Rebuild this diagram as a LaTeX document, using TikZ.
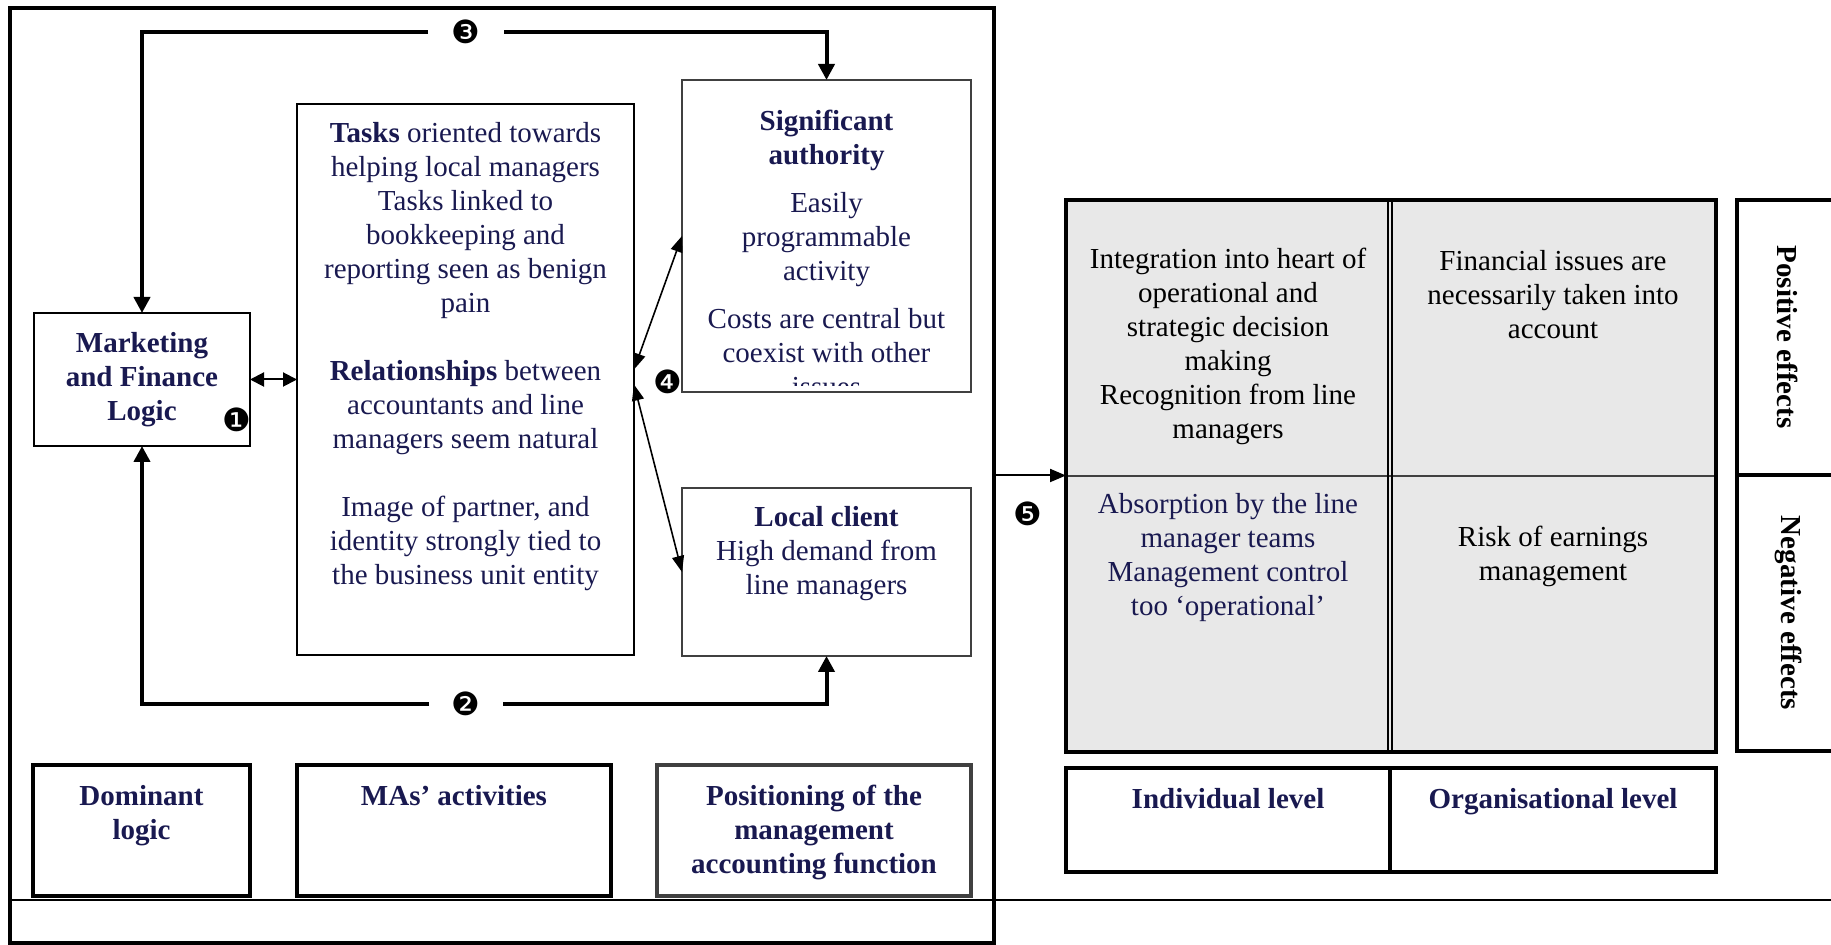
\documentclass[tikz,border=0pt]{standalone}
\usepackage{fontspec}
\setmainfont{Liberation Serif}
\newfontfamily\dingfont{DejaVu Sans}
\usetikzlibrary{arrows.meta,fit,calc}
\definecolor{navy}{RGB}{25,25,80}
\definecolor{bordergray}{RGB}{64,64,64}
\definecolor{cellgray}{RGB}{232,232,232}
\begin{document}
\begin{tikzpicture}[x=0.5pt,y=-0.5pt,
  every node/.style={inner sep=0pt,outer sep=0pt},
  thinbox/.style={draw,line width=1pt,fit={#1}},
  graybox/.style={draw=bordergray,line width=1pt,fit={#1}},
  thickbox/.style={draw,line width=2pt,fit={#1}},
  thickgray/.style={draw=bordergray,line width=2pt,fit={#1}},
  txt/.style={anchor=north,align=center,font=\fontsize{14.5}{17}\selectfont,text=navy},
  btxt/.style={txt,font=\fontsize{14.5}{17}\selectfont\bfseries},
  num/.style={font=\dingfont\fontsize{16}{17}\selectfont},
  loopline/.style={line width=2pt},
  looptip/.style={-{Triangle[width=8pt,length=8pt]}},
  dblarrow/.style={line width=1pt,{Triangle[width=7pt,length=7pt]}-{Triangle[width=7pt,length=7pt]}},
  diagarrow/.style={line width=0.8pt,{Triangle[width=6pt,length=8pt]}-{Triangle[width=6pt,length=8pt]}},
  fivearrow/.style={line width=1pt,-{Triangle[width=6.5pt,length=8pt]}}
]
\useasboundingbox (0,0) rectangle (1831,945);
\clip (0,0) rectangle (1831,945);

% outer frame and separator
\node[thickbox={(10,8)(994,943)}] (outer) {};
\draw[line width=1.2pt] (10,900) -- (1831,900);

% left part boxes
\node[thinbox={(34,313)(250,446)}] (mkt) {};
\node[thinbox={(297,104)(634,655)}] (mid) {};
\node[graybox={(682,80)(971,392)}] (sig) {};
\node[graybox={(682,488)(971,656)}] (lc) {};

\node[thickbox={(33,765)(250,896)}] (dom) {};
\node[thickbox={(297,765)(611,896)}] (mas) {};
\node[thickgray={(657,765)(971,896)}] (pos) {};

% texts
\node[btxt] (tmkt) at (142,329) {\strut Marketing\\ and Finance\\ Logic};
\node[txt] (tmid) at (465.5,119) {\strut\textbf{Tasks} oriented towards\\ helping local managers\\ Tasks linked to\\ bookkeeping and\\ reporting seen as benign\\ pain\\[17pt] \textbf{Relationships} between\\ accountants and line\\ managers seem natural\\[17pt] Image of partner, and\\ identity strongly tied to\\ the business unit entity};
\begin{scope}
\clip (683,81) rectangle (970,386);
\node[txt] (tsig) at (826.5,107) {\strut\textbf{Significant}\\ \textbf{authority}\\[7pt] Easily\\ programmable\\ activity\\[7pt] Costs are central but\\ coexist with other\\ issues};
\end{scope}
\node[txt] (tlc) at (826.5,503) {\strut\textbf{Local client}\\ High demand from\\ line managers};

\node[btxt] (tdom) at (141.5,782) {\strut Dominant\\ logic};
\node[btxt] (tmas) at (454,782) {\strut MAs’ activities};
\node[btxt] (tpos) at (814,782) {\strut Positioning of the\\ management\\ accounting function};

% numbers
\node[num,minimum width=38pt,minimum height=10pt] (n3) at (466,32) {❸};
\node[num,minimum width=37pt,minimum height=10pt] (n2) at (466,704) {❷};
\node[num] (n1) at (237,420) {❶};
\node[num] (n4) at (668,382) {❹};
\node[num] (n5) at (1028,514) {❺};

% connectors
\draw[loopline,looptip] (n3) -| (mkt.north);
\draw[loopline,looptip] (n3) -| (sig.north);
\draw[loopline,looptip] (n2) -| (mkt.south);
\draw[loopline,looptip] (n2) -| (lc.south);
\draw[dblarrow] (mkt.east) -- (mkt.east -| mid.west);
\draw[diagarrow] ($(mid.east)+(0,-10)$) -- (sig.west);
\draw[diagarrow] ($(mid.east)+(0,5)$) -- (lc.west);

% right grid
\node[fill=cellgray,fit={(1066,200)(1716,752)}] (grid) {};
\draw[line width=1pt,bordergray] (grid.west) -- (grid.east);
\draw[line width=0.6pt] (1388,200) -- (1388,752);
\draw[line width=0.6pt] (1392,200) -- (1392,752);
\draw[line width=2.2pt] (grid.north west) rectangle (grid.south east);
\draw[fivearrow] (outer.east) -- (outer.east -| grid.west);

\node[txt,text=black] (c11) at (1228,245) {\strut Integration into heart of\\ operational and\\ strategic decision\\ making\\ Recognition from line\\ managers};
\node[txt,text=black] (c12) at (1553,247) {\strut Financial issues are\\ necessarily taken into\\ account};
\node[txt] (c21) at (1228,490) {\strut Absorption by the line\\ manager teams\\ Management control\\ too ‘operational’};
\node[txt,text=black] (c22) at (1553,523) {\strut Risk of earnings\\ management};

% level boxes
\node[thickbox={(1066,768)(1390,872)}] (ind) {};
\node[thickbox={(1390,768)(1716,872)}] (org) {};
\node[btxt] (tind) at (1228,785) {\strut Individual level};
\node[btxt] (torg) at (1553,785) {\strut Organisational level};

% effects
\node[thickbox={(1737,200)(1860,751)}] (eff) {};
\draw[line width=2pt] (eff.west) -- (eff.east);
\node[rotate=-90,font=\fontsize{14.5}{17}\selectfont\bfseries] (pe) at (1788,337) {Positive effects};
\node[rotate=-90,font=\fontsize{14.5}{17}\selectfont\bfseries] (ne) at (1788,613) {Negative effects};
\end{tikzpicture}
\end{document}
